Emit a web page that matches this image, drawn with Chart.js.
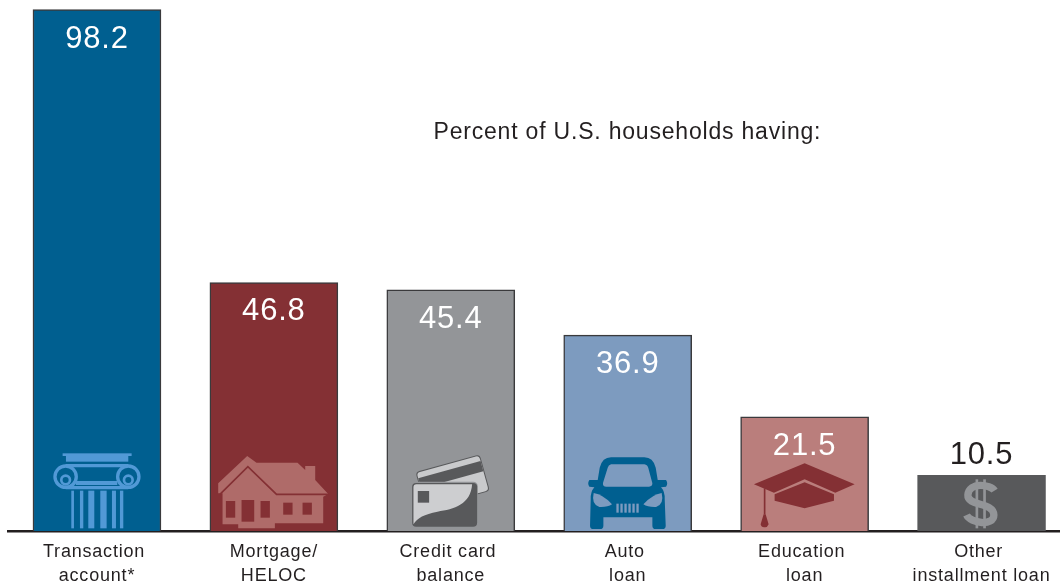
<!DOCTYPE html>
<html>
<head>
<meta charset="utf-8">
<title>Percent of U.S. households having</title>
<script src="https://cdn.jsdelivr.net/npm/chart.js@4"></script>
<style>
  html, body { margin: 0; padding: 0; background: #fff; overflow: hidden; }
  #wrap { width: 1060px; height: 583px; overflow: hidden; }
  canvas { display: block; }
</style>
</head>
<body>
<div id="wrap"><canvas id="debt-bars" width="1070" height="583"></canvas></div>
<script>
var categories = [
    ["Transaction ", "account*"],
    ["Mortgage/", "HELOC"],
    ["Credit card ", "balance"],
    ["Auto ", "loan"],
    ["Education ", "loan"],
    ["Other ", "installment loan"]
];
var percentHaving = [98.2, 46.8, 45.4, 36.9, 21.5, 10.5];
var barColors = ["#005F90", "#843034", "#939598", "#7D9BBF", "#BA7E7C", "#58595B"];
var valueColors = ["#ffffff", "#ffffff", "#ffffff", "#ffffff", "#ffffff", "#231F20"];
var edgeColors = ["#3A3A3C", "#3A3A3C", "#3A3A3C", "#3A3A3C", "#3A3A3C", "#58595B"];
var note = "Percent of U.S. households having:";
var FONT = '"Liberation Sans", Arial, sans-serif';

function poly(ctx, pts) {
    ctx.beginPath();
    ctx.moveTo(pts[0][0], pts[0][1]);
    for (var i = 1; i < pts.length; i++) ctx.lineTo(pts[i][0], pts[i][1]);
    ctx.closePath();
    ctx.fill();
}

function rrect(ctx, x, y, w, h, r) {
    ctx.beginPath();
    ctx.roundRect(x, y, w, h, r);
    ctx.fill();
}

// icons are sketched in 3x px, relative to bar centre (0) and baseline (0)
function iconColumn(ctx) {
    ctx.fillStyle = "#5199D6";
    ctx.strokeStyle = "#5199D6";
    ctx.fillRect(-103, -233, 207, 8);
    ctx.fillRect(-93, -225, 187, 17);
    ctx.lineWidth = 10;
    ctx.beginPath();
    ctx.moveTo(-94, -196);
    ctx.lineTo(94, -196);
    ctx.moveTo(-94, -130);
    ctx.lineTo(94, -130);
    ctx.stroke();
    [-94, 94].forEach(function (cx) {
        ctx.lineWidth = 10;
        ctx.beginPath();
        ctx.arc(cx, -163, 32, 0, Math.PI * 2);
        ctx.stroke();
        ctx.lineWidth = 8;
        ctx.beginPath();
        ctx.arc(cx, -153, 13, 0, Math.PI * 2);
        ctx.stroke();
    });
    ctx.fillRect(-63, -150, 124, 12);
    [[-77, 8], [-51, 10], [-26, 18], [10, 19], [45, 12], [69, 10]].forEach(function (f) {
        ctx.fillRect(f[0], -121, f[1], 113);
    });
}

function iconHouse(ctx) {
    ctx.fillStyle = "#AF6B69";
    poly(ctx, [[-167, -143], [-80, -225], [-52, -205], [71, -205], [94, -183], [94, -195], [124, -195],
        [124, -153], [163, -111], [148, -103], [148, -23], [3, -23], [3, -8], [-107, -8], [-107, -20],
        [-154, -20], [-154, -113], [-167, -113]]);
    ctx.strokeStyle = "#843034";
    ctx.lineWidth = 5;
    ctx.beginPath();
    ctx.moveTo(-162, -110);
    ctx.lineTo(-78, -193);
    ctx.lineTo(8, -110);
    ctx.lineTo(163, -110);
    ctx.stroke();
    ctx.fillStyle = "#843034";
    ctx.fillRect(-144, -90, 28, 50);
    ctx.fillRect(-97, -93, 38, 65);
    ctx.fillRect(-40, -90, 28, 50);
    ctx.fillRect(28, -85, 28, 36);
    ctx.fillRect(86, -85, 28, 36);
}

function iconCards(ctx) {
    // back card
    ctx.save();
    ctx.translate(-3, -172);
    ctx.rotate(-0.27);
    ctx.fillStyle = "#58595B";
    rrect(ctx, -98, -32, 200, 114, 12);
    ctx.fillStyle = "#C9CACC";
    rrect(ctx, -95, -29, 194, 108, 10);
    ctx.fillStyle = "#58595B";
    ctx.fillRect(-95, -12, 194, 32);
    ctx.restore();
    // front card
    ctx.fillStyle = "#939598";
    rrect(ctx, -120, -148, 201, 138, 14);
    ctx.fillStyle = "#58595B";
    rrect(ctx, -116, -144, 195, 131, 12);
    ctx.fillStyle = "#CDCED0";
    ctx.beginPath();
    ctx.moveTo(-112, -131);
    ctx.quadraticCurveTo(-112, -140, -103, -140);
    ctx.lineTo(64, -140);
    ctx.bezierCurveTo(60, -80, 10, -65, -40, -58);
    ctx.bezierCurveTo(-80, -50, -100, -40, -112, -20);
    ctx.closePath();
    ctx.fill();
    ctx.fillStyle = "#58595B";
    ctx.fillRect(-99, -120, 34, 35);
}

function iconCar(ctx) {
    ctx.fillStyle = "#005F90";
    ctx.beginPath();
    ctx.moveTo(-50, -221);
    ctx.lineTo(50, -221);
    ctx.quadraticCurveTo(76, -221, 84, -190);
    ctx.lineTo(90, -153);
    ctx.lineTo(115, -153);
    ctx.quadraticCurveTo(122, -143, 115, -133);
    ctx.lineTo(100, -131);
    ctx.quadraticCurveTo(112, -118, 111, -95);
    ctx.lineTo(114, -16);
    ctx.quadraticCurveTo(114, -6, 104, -6);
    ctx.lineTo(84, -6);
    ctx.quadraticCurveTo(74, -6, 74, -16);
    ctx.lineTo(74, -41);
    ctx.lineTo(-73, -41);
    ctx.lineTo(-73, -16);
    ctx.quadraticCurveTo(-73, -6, -83, -6);
    ctx.lineTo(-103, -6);
    ctx.quadraticCurveTo(-113, -6, -113, -16);
    ctx.lineTo(-111, -95);
    ctx.quadraticCurveTo(-112, -118, -100, -131);
    ctx.lineTo(-115, -133);
    ctx.quadraticCurveTo(-122, -143, -115, -153);
    ctx.lineTo(-90, -153);
    ctx.lineTo(-84, -190);
    ctx.quadraticCurveTo(-76, -221, -50, -221);
    ctx.closePath();
    ctx.fill();

    ctx.fillStyle = "#7D9BBF";
    ctx.beginPath();
    ctx.moveTo(-50, -200);
    ctx.lineTo(50, -200);
    ctx.quadraticCurveTo(60, -198, 62, -188);
    ctx.lineTo(74, -143);
    ctx.quadraticCurveTo(74, -133, 64, -133);
    ctx.lineTo(-64, -133);
    ctx.quadraticCurveTo(-76, -133, -74, -145);
    ctx.lineTo(-60, -190);
    ctx.quadraticCurveTo(-58, -198, -50, -200);
    ctx.closePath();
    ctx.fill();
    // headlights
    [1, -1].forEach(function (s) {
        ctx.beginPath();
        ctx.moveTo(s * 102, -114);
        ctx.quadraticCurveTo(s * 74, -110, s * 47, -80);
        ctx.quadraticCurveTo(s * 60, -71, s * 85, -72);
        ctx.quadraticCurveTo(s * 110, -80, s * 102, -114);
        ctx.closePath();
        ctx.fill();
    });
    for (var i = 0; i < 6; i++) {
        ctx.fillRect(-34 + i * 12, -82, 7, 27);
    }
}

function iconCap(ctx) {
    ctx.fillStyle = "#843034";
    poly(ctx, [[-152, -140], [0, -203], [150, -140], [92, -115], [0, -155], [-92, -115]]);
    poly(ctx, [[-90, -110], [0, -146], [88, -110], [88, -91], [0, -68], [-90, -91]]);
    ctx.strokeStyle = "#843034";
    ctx.lineWidth = 5;
    ctx.beginPath();
    ctx.moveTo(-120, -128);
    ctx.lineTo(-120, -50);
    ctx.stroke();
    ctx.beginPath();
    ctx.moveTo(-123, -50);
    ctx.lineTo(-117, -50);
    ctx.lineTo(-108, -20);
    ctx.quadraticCurveTo(-112, -10, -120, -11);
    ctx.quadraticCurveTo(-130, -10, -132, -20);
    ctx.closePath();
    ctx.fill();
}

function iconDollar(ctx) {
    ctx.fillStyle = "#939598";
    ctx.strokeStyle = "#939598";
    ctx.fillRect(-18, -155, 8, 147);
    ctx.fillRect(5, -155, 8, 147);
    ctx.lineWidth = 22;
    ctx.beginPath();
    ctx.moveTo(39, -121);
    ctx.bezierCurveTo(27, -140, -38, -148, -41, -108);
    ctx.bezierCurveTo(-43, -73, 37, -88, 37, -48);
    ctx.bezierCurveTo(37, -13, -33, -23, -45, -48);
    ctx.stroke();
}

var icons = [iconColumn, iconHouse, iconCards, iconCar, iconCap, iconDollar];

var extras = {
    id: "extras",
    beforeDraw: function (chart) {
        chart.ctx.letterSpacing = "0.8px";
    },
    afterDatasetsDraw: function (chart) {
        var ctx = chart.ctx;
        var meta = chart.getDatasetMeta(0);
        var base = chart.scales.y.getPixelForValue(0);
        ctx.save();
        ctx.textAlign = "center";
        ctx.textBaseline = "alphabetic";
        ctx.font = "31px " + FONT;
        meta.data.forEach(function (bar, i) {
            // the short bar carries its number above, the others inside
            var y = percentHaving[i] < 15 ? bar.y - 11 : bar.y + 38;
            ctx.fillStyle = valueColors[i];
            ctx.fillText(percentHaving[i].toFixed(1), bar.x, y);

            ctx.save();
            ctx.translate(bar.x, base);
            ctx.scale(1 / 3, 1 / 3);
            icons[i](ctx);
            ctx.restore();
        });
        ctx.textAlign = "left";
        ctx.font = "23px " + FONT;
        ctx.fillStyle = "#231F20";
        ctx.fillText(note, 433.5, 139);
        ctx.restore();
    }
};

new Chart(document.getElementById("debt-bars"), {
    type: "bar",
    plugins: [extras],
    data: {
        labels: categories,
        datasets: [{
            data: percentHaving,
            backgroundColor: barColors,
            borderColor: edgeColors,
            borderWidth: 1.5,
            borderSkipped: "bottom",
            barThickness: 128
        }]
    },
    options: {
        responsive: false,
        animation: false,
        events: [],
        layout: { padding: { left: 8.5, right: 0, top: 0, bottom: 0 } },
        plugins: {
            legend: { display: false },
            title: { display: false },
            tooltip: { enabled: false }
        },
        scales: {
            x: {
                grid: { display: false, drawTicks: false },
                border: { display: true, color: "#231F20", width: 2.5 },
                afterFit: function (scale) { scale.height = 52; },
                ticks: {
                    autoSkip: false,
                    maxRotation: 0,
                    padding: 9,
                    color: "#231F20",
                    font: { family: FONT, size: 18, lineHeight: 1.33 }
                }
            },
            y: {
                display: false,
                min: 0,
                max: 100
            }
        }
    }
});
</script>
</body>
</html>
